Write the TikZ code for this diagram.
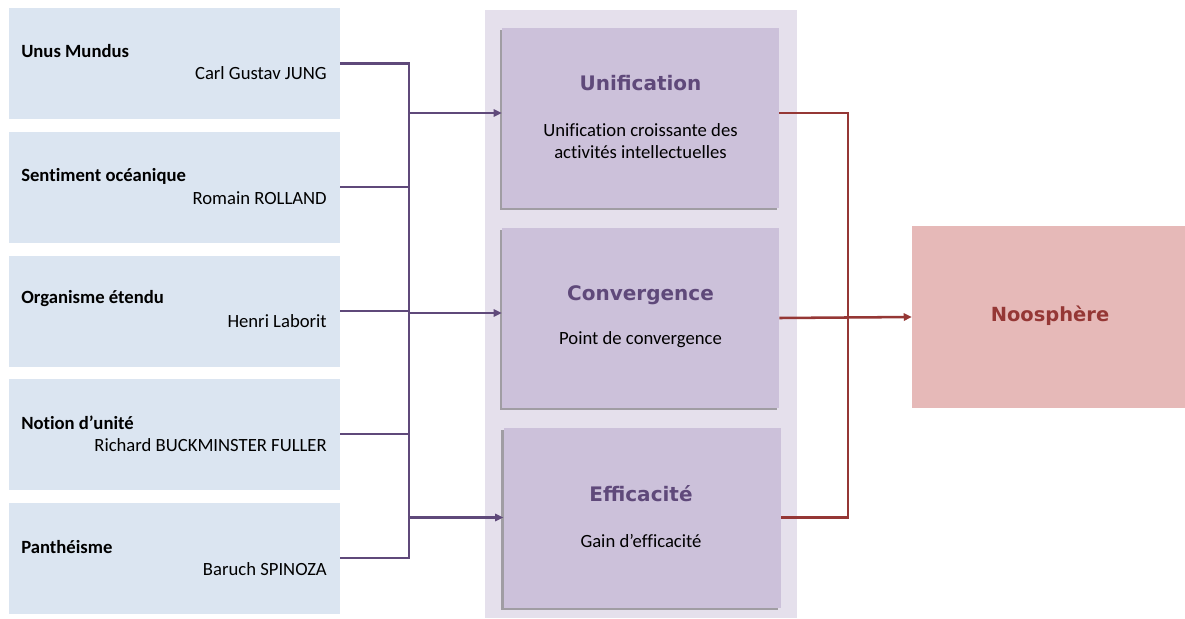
\documentclass[tikz,border=0pt]{standalone}
\usepackage{fontspec}
\setmainfont{Carlito}[Ligatures=NoCommon]
\newfontfamily\headfont{DejaVu Sans}
\usetikzlibrary{arrows.meta,shadows,calc}
\definecolor{leftfill}{HTML}{DBE5F1}
\definecolor{panelfill}{HTML}{E5E0EC}
\definecolor{midfill}{HTML}{CCC1DA}
\definecolor{noosfill}{HTML}{E6B9B8}
\definecolor{purp}{HTML}{5F497A}
\definecolor{darkred}{HTML}{953735}
\tikzset{
  leftbox/.style={fill=leftfill, draw=none, minimum width=248.25pt, minimum height=83.25pt, inner sep=0pt},
  midbox/.style={fill=midfill, draw=none, minimum width=207.75pt, minimum height=135pt, inner sep=0pt,
    drop shadow={shadow xshift=-1.8pt, shadow yshift=-1.8pt, opacity=0.45, fill=black!70}},
  ltitle/.style={anchor=west, inner sep=0pt, font=\fontsize{14}{16}\selectfont\bfseries},
  lname/.style={anchor=east, inner sep=0pt, font=\fontsize{14}{16}\selectfont},
  mtitle/.style={inner sep=0pt, text=purp, font=\headfont\fontsize{15}{17}\selectfont\bfseries},
  mbody/.style={inner sep=0pt, align=center, font=\fontsize{14}{16.5}\selectfont},
  purpline/.style={draw=purp, line width=1.9pt},
  redline/.style={draw=darkred, line width=1.9pt},
  tip/.style={-{Triangle[length=6pt,width=5.5pt]}}
}
\begin{document}
\begin{tikzpicture}[x=0.75pt,y=-0.75pt]
\useasboundingbox (0,0) rectangle (1185,618);
% panel
\fill[panelfill] (485,10) rectangle (797,618);
% left boxes
\node[leftbox] (l1) at (174.5,63.5) {};
\node[leftbox] (l2) at (174.5,187) {};
\node[leftbox] (l3) at (174.5,311) {};
\node[leftbox] (l4) at (174.5,434) {};
\node[leftbox] (l5) at (174.5,558) {};
\node[ltitle] (t1) at (21,51) {Unus Mundus};
\node[lname] (n1) at (327,73) {Carl Gustav JUNG};
\node[ltitle] (t2) at (21,176) {Sentiment océanique};
\node[lname] (n2) at (327,198) {Romain ROLLAND};
\node[ltitle] (t3) at (21,299) {Organisme étendu};
\node[lname] (n3) at (327,321) {Henri Laborit};
\node[ltitle] (t4) at (21,423) {Notion d’unité};
\node[lname] (n4) at (327,445) {Richard BUCKMINSTER FULLER};
\node[ltitle] (t5) at (21,547) {Panthéisme};
\node[lname] (n5) at (327,569) {Baruch SPINOZA};
% middle boxes
\node[midbox] (unif) at (640.5,118) {};
\node[midbox] (conv) at (640.5,318) {};
\node[midbox] (eff) at (642,517.5) {};
\node[mtitle] (ut) at (640.5,83) {Unification};
\node[mbody] (ub) at (640.5,141) {Unification croissante des\\activités intellectuelles};
\node[mtitle] (ct) at (640.5,295) {Convergence};
\node[mbody] (cb) at (640.5,340) {Point de convergence};
\node[mtitle] (et) at (641,494) {Efficacité};
\node[mbody] (eb) at (641,541) {Gain d’efficacité};
% noosphere
\node[fill=noosfill, minimum width=204.75pt, minimum height=136.5pt, inner sep=0pt] (noos) at (1048.5,317) {};
\node[inner sep=0pt, text=darkred, font=\headfont\fontsize{14.6}{17}\selectfont\bfseries] (nt) at (1050,316) {Noosphère};
% purple bus
\coordinate (bt) at (409,63.5);
\coordinate (bb) at (409,558);
\coordinate (ua) at ($(unif.west)+(0,-5)$);
\coordinate (ca) at ($(conv.west)+(0,-5)$);
\draw[purpline] (l1.east) -- (bt) -- (bb) -- (l5.east);
\draw[purpline] (l2.east) -- (l2.east -| bt);
\draw[purpline] (l3.east) -- (l3.east -| bt);
\draw[purpline] (l4.east) -- (l4.east -| bt);
\draw[purpline,tip] (ua -| bt) -- (ua);
\draw[purpline,tip] (ca -| bt) -- (ca);
\draw[purpline,tip] (eff.west -| bt) -- (eff.west);
% red bus
\coordinate (ue) at ($(unif.east)+(0,-5)$);
\coordinate (rt) at (848,113);
\coordinate (rb) at (848,517.5);
\draw[redline] (ue) -- (rt) -- (rb) -- (eff.east);
\draw[redline,tip] (conv.east) -- (noos.west);
\end{tikzpicture}
\end{document}
